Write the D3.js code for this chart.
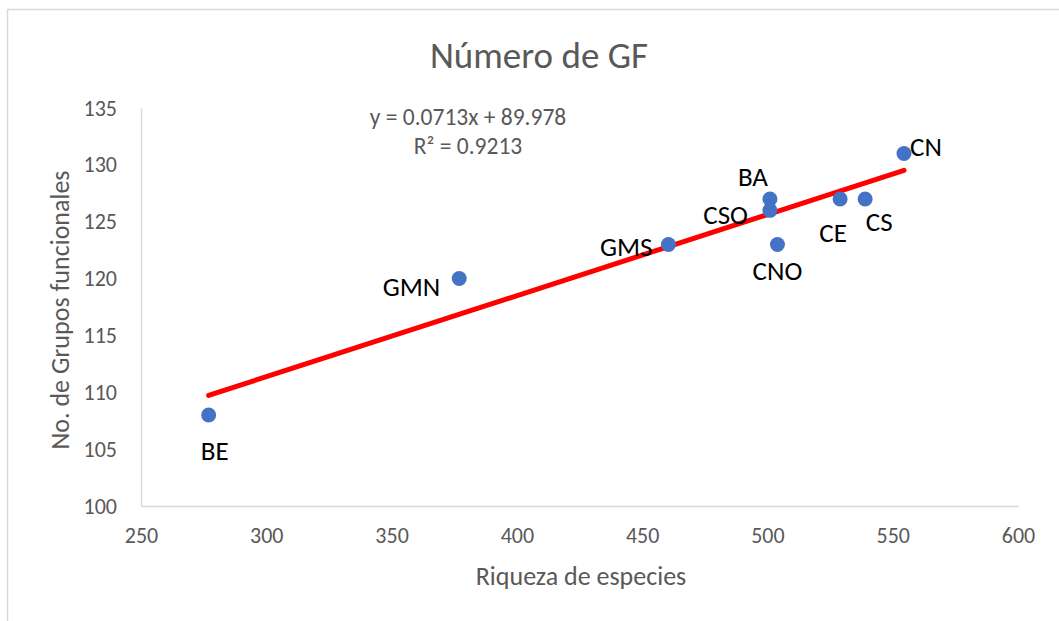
<!DOCTYPE html>
<html>
<head>
<meta charset="utf-8">
<script src="https://cdn.jsdelivr.net/npm/d3@7"></script>
<style>
  body { margin: 0; background: #fff; }
  text { font-family: Calibri, Carlito, Lato, "Open Sans", sans-serif; }
</style>
</head>
<body>
<div id="chart"></div>
<script>
// site labels and measured values
var sites = ["BE", "GMN", "GMS", "BA", "CSO", "CNO", "CE", "CS", "CN"];
var riqueza = [277, 377, 460.5, 501, 501, 504, 529, 539, 554.5];
var grupos = [108, 120, 123, 127, 126, 123, 127, 127, 131];

// label placement relative to each point (dx, dy, anchor)
var labelDx = [6, -19, -16, -17, -22, 0, -7, 14, 6];
var labelDy = [45, 17, 12, -13, 14, 36, 43, 32, 3];
var labelAnchor = ["middle", "end", "end", "middle", "end", "middle", "middle", "middle", "start"];

var xTicks = [250, 300, 350, 400, 450, 500, 550, 600];
var yTicks = [100, 105, 110, 115, 120, 125, 130, 135];

var slope = 0.0713, intercept = 89.978, r2 = 0.9213;

var width = 1059,
    height = 621,
    margin = { left: 141, right: 41, top: 108, bottom: 115 };

var svg = d3.select("#chart").append("svg")
    .attr("width", width)
    .attr("height", height);

// chart area border (only top and left are in frame)
svg.append("path")
    .attr("d", "M7.5," + height + "V9.5H" + width)
    .attr("fill", "none")
    .attr("stroke", "#d9d9d9")
    .attr("stroke-width", 1.5);

var x = d3.scaleLinear().domain([250, 600]).range([margin.left, width - margin.right]);
var y = d3.scaleLinear().domain([100, 135]).range([height - margin.bottom, margin.top]);

var xAxis = svg.append("g")
    .attr("transform", "translate(0," + y(100) + ")")
    .call(d3.axisBottom(x).tickValues(xTicks).tickSize(0).tickPadding(21));
var yAxis = svg.append("g")
    .attr("transform", "translate(" + x(250) + ",0)")
    .call(d3.axisLeft(y).tickValues(yTicks).tickSize(0).tickPadding(24));

[xAxis, yAxis].forEach(function(a) {
    a.select(".domain").attr("stroke", "#d9d9d9").attr("stroke-width", 1.5);
    a.selectAll("text").attr("fill", "#595959").style("font-size", "22px");
});

svg.append("text")
    .attr("x", 539).attr("y", 68)
    .attr("text-anchor", "middle")
    .attr("fill", "#595959")
    .style("font-size", "37px")
    .text("Número de GF");

svg.append("text")
    .attr("x", 581).attr("y", 585)
    .attr("text-anchor", "middle")
    .attr("fill", "#595959")
    .style("font-size", "26px")
    .text("Riqueza de especies");

svg.append("text")
    .attr("transform", "translate(69,310) rotate(-90)")
    .attr("text-anchor", "middle")
    .attr("fill", "#595959")
    .style("font-size", "26px")
    .text("No. de Grupos funcionales");

// trendline
var xExt = d3.extent(riqueza);
svg.append("line")
    .attr("x1", x(xExt[0])).attr("y1", y(slope * xExt[0] + intercept))
    .attr("x2", x(xExt[1])).attr("y2", y(slope * xExt[1] + intercept))
    .attr("stroke", "#ff0000")
    .attr("stroke-width", 5)
    .attr("stroke-linecap", "round");

svg.append("text")
    .attr("x", 468).attr("y", 125)
    .attr("text-anchor", "middle")
    .attr("fill", "#595959")
    .style("font-size", "23.5px")
    .text("y = " + slope + "x + " + intercept);
svg.append("text")
    .attr("x", 468).attr("y", 154)
    .attr("text-anchor", "middle")
    .attr("fill", "#595959")
    .style("font-size", "23.5px")
    .text("R² = " + r2);

svg.append("g").selectAll("circle")
    .data(sites)
    .enter().append("circle")
    .attr("cx", function(d, i) { return x(riqueza[i]); })
    .attr("cy", function(d, i) { return y(grupos[i]); })
    .attr("r", 7.5)
    .attr("fill", "#4472c4");

svg.append("g").selectAll("text")
    .data(sites)
    .enter().append("text")
    .attr("x", function(d, i) { return x(riqueza[i]) + labelDx[i]; })
    .attr("y", function(d, i) { return y(grupos[i]) + labelDy[i]; })
    .attr("text-anchor", function(d, i) { return labelAnchor[i]; })
    .attr("fill", "#000")
    .style("font-size", "27px")
    .text(function(d) { return d; });
</script>
</body>
</html>
